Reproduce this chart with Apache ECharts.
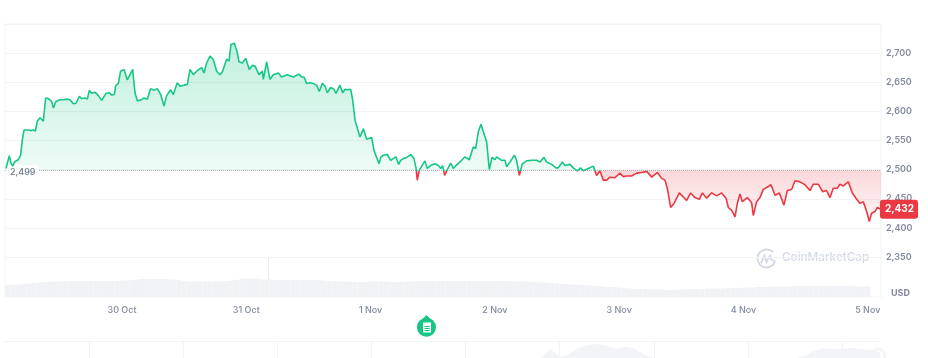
<!DOCTYPE html>
<html lang="en">
<head>
<meta charset="UTF-8">
<title>Price chart</title>
<script src="https://cdn.jsdelivr.net/npm/echarts@6/dist/echarts.min.js"></script>
</head>
<body style="margin:0;background:#fff">
<div id="chart" style="width:928px;height:358px"></div>
<script>
// hours since 29 Oct 00:00
var hours = [1.6,1.86,2.25,2.57,2.89,3.34,3.98,4.43,4.76,5.08,5.46,5.91,6.36,6.88,7.27,7.65,8.17,8.42,8.81,9.26,9.78,10.42,10.74,11.26,12.03,12.67,13.32,13.96,14.6,15.12,15.76,16.21,16.86,17.31,17.69,18.14,18.79,19.43,20.07,20.91,21.55,22,22.52,22.78,23.29,23.74,24.39,25.03,26.06,26.51,26.96,27.8,28.25,28.89,29.53,30.18,30.82,31.47,32.11,32.62,33.4,33.91,34.68,35.2,35.97,36.61,37.13,37.77,38.42,38.74,39.38,39.83,40.35,40.99,41.63,42.28,42.92,43.44,44.21,44.66,45.04,45.69,46.27,46.59,47.23,47.88,48.58,49.16,49.68,50.45,51.1,51.29,51.93,52.57,53.22,54.18,54.83,55.92,57.08,58.17,58.69,59.14,59.65,60.3,
  60.94,61.59,62.1,62.68,63.2,63.65,64.29,64.93,65.32,66.09,66.61,67.06,67.51,68.15,68.54,68.99,69.31,69.95,70.6,71.24,72.21,72.66,72.98,73.62,74.01,74.59,75.23,75.88,76.9,77.42,77.81,78.32,78.96,79.8,80.38,80.77,81.02,81.41,82.5,82.95,83.6,84.44,85.08,85.59,85.92,86.3,86.82,87.46,87.98,88.49,89.58,90.23,91.06,91.84,92.29,92.8,93.32,93.77,94.41,94.93,95.44,96.02,96.34,97.31,97.95,98.27,98.92,99.75,100.2,100.72,101.3,102.13,103.1,104.06,104.71,105.48,106,106.96,107.8,108.25,109.02,109.53,110.5,111.14,111.92,112.56,113.08,114.04,115.01,115.65,116.29,116.94,117.58,118.22,119.19,120.15,
  120.8,121.45,122.41,123.38,124.35,125.31,126.28,127.37,128.21,128.85,129.37,129.94,130.59,131.62,132.39,133.03,133.81,134.64,135.48,136.06,136.9,137.86,138.83,139.79,140.63,141.08,141.72,142.37,142.82,143.33,143.78,144.75,145.58,145.91,146.55,147.19,147.84,148.8,149.32,150.09,150.93,151.83,152.47,153.31,153.95,154.92,155.88,156.85,157.49,158.46,159.29,160.06,160.71,161.35,162.12,162.64,163.28,164.25,165.02,165.73,166.5,167.14,167.79,168.3,168.75,169.39,169.85,170.56];
var prices = [2502,2511,2524,2511,2506,2514,2517,2525,2551,2568,2566,2568,2567,2568,2566,2583,2589,2591,2583,2623,2622,2617,2606,2617,2620,2620,2621,2620,2613,2614,2626,2622,2623,2621,2636,2631,2633,2627,2619,2631,2632,2628,2629,2644,2648,2669,2672,2654,2672,2632,2618,2620,2623,2621,2639,2636,2639,2629,2609,2627,2637,2629,2649,2643,2645,2646,2672,2663,2669,2666,2675,2666,2683,2695,2689,2669,2663,2669,2690,2686,2715,2717,2701,2685,2683,2691,2672,2679,2678,2663,2669,2655,2685,2655,2663,2666,2659,2663,2659,2664,2659,2659,2648,2649,
  2648,2645,2634,2648,2643,2632,2641,2638,2631,2645,2632,2638,2637,2638,2620,2585,2582,2556,2570,2552,2555,2533,2536,2510,2522,2525,2526,2516,2522,2509,2516,2519,2521,2526,2519,2503,2482,2499,2515,2502,2507,2510,2507,2502,2507,2490,2500,2511,2502,2507,2516,2522,2517,2539,2536,2565,2578,2565,2548,2500,2521,2517,2522,2516,2516,2505,2513,2525,2516,2490,2510,2515,2516,2516,2513,2521,2513,2509,2503,2503,2513,2507,2509,2503,2498,2503,2498,2502,2506,2490,2498,2482,2482,2487,2486,2494,
  2488,2489,2489,2494,2495,2497,2487,2495,2485,2482,2465,2435,2442,2460,2453,2447,2460,2452,2449,2460,2451,2460,2455,2460,2451,2435,2430,2419,2442,2458,2445,2452,2443,2421,2445,2452,2466,2471,2474,2456,2460,2439,2464,2466,2481,2479,2474,2464,2475,2475,2462,2464,2452,2468,2468,2475,2472,2479,2460,2451,2442,2445,2428,2411,2425,2428,2435,2432];
var basePrice = 2499;
var lastPrice = 2432;

// one bar per hour, from hour 2
var volumeStart = 2;
var volumes = [12,12,12.5,13,13.5,14,14.5,15,15,15.5,15.5,16,16,16,16,16,16,16,16,16,16,16,16.5,16.5,17,17.5,18,18,18,18,18,18,17.5,17,16,15.5,15.5,15.5,15.5,15.5,15.5,15.5,16,16.5,17,18,18.5,18.5,18,17.5,17.5,17,17,17,17,17,17,17,17,17,17,16.5,16,16,15.5,15.5,15,15,15,15,15.5,15.5,15.5,15.5,15,15,15,15.5,15.5,16,16,16,16,16,16,16,16,16,16,16,16,16,16,16,16,16,16,16,15.5,15.5,15.5,15,15,14.5,14.5,14,13.5,13,13,12.5,12.5,12,11.5,11,11,10.5,10,10,9.5,9,8.5,8,8,8,7.5,7.5,7.5,7,7,7,7.5,7.5,8,8,8,8.5,8.5,8.5,8.5,9,9,9,9.5,9.5,9.5,10,10,10,10.5,10.5,10.5,10.5,11,11,11,11,11,11,11,11,11,11,11,11,10.5,10.5,10.5];
var volumeSpikeHour = 52.2;
var volumeSpikeTop = 39;

var dayHours = [24,48,72,96,120,144,168];
var dayLabels = ['30 Oct','31 Oct','1 Nov','2 Nov','3 Nov','4 Nov','5 Nov'];
var priceTicks = [2350,2750,50];

// minimap strip under the chart
var navLabels = [];
var navValues = [0,0,0,0,0,0,0,0,0,0,0,0,0,0,0,0,0,0,0,0,0,0,0,0,0,0,0,0,0,0,0,0,0,0,0,0,0,0,0,0,0,0,0,0,0,0,0,0,0,0,0,0,0,0,0,0,0,0,9,1,4,10,13,14,12,9,11,9,3,0,0,0,0,0,0,0,0,0,0,0,0,0,0,0,0,2,7,10,9,9,10,9,8,6];
for (var n = 0; n < navValues.length; n++) navLabels.push(String(n));

var myChart = echarts.init(document.getElementById('chart'));

var green = '#16c784', red = '#ea3943', gridColor = '#f2f3f5', labelColor = '#808a9d';
var font = 'Inter';

var linePoints = hours.map(function (h, i) { return [h, prices[i]]; });
var volumePoints = volumes.map(function (v, i) { return [volumeStart + i, v]; });

var hi = Math.max.apply(null, prices), lo = Math.min.apply(null, prices);
var split = (hi - basePrice) / (hi - lo);

var option = {
    animation: false,
    backgroundColor: '#fff',
    grid: [
        { left: 5, width: 876, top: 24, height: 233 },
        { left: 5, width: 876, top: 257, height: 40 },
        { left: 4, width: 876, top: 341, height: 17 },
        // outer frame
        { left: 5, width: 876, top: 24, height: 273, show: true, borderColor: gridColor, borderWidth: 1 }
    ],
    xAxis: [
        { gridIndex: 0, type: 'value', min: 1.41, max: 170.56, show: false },
        {
            gridIndex: 1, type: 'value', min: 1.41, max: 170.56,
            axisLine: { show: false }, axisTick: { show: false }, splitLine: { show: false },
            axisLabel: {
                customValues: dayHours,
                margin: 9,
                color: labelColor, fontFamily: font, fontSize: 9, fontWeight: 500,
                formatter: function (v) { return dayLabels[dayHours.indexOf(v)]; }
            }
        },
        {
            gridIndex: 2, type: 'category', boundaryGap: false, data: navLabels,
            position: 'top',
            axisLine: { show: true, onZero: false, lineStyle: { color: gridColor } },
            axisTick: { show: false }, axisLabel: { show: false },
            splitLine: {
                show: true, lineStyle: { color: gridColor },
                interval: function (i) { return i % 10 === 9; }
            }
        }
    ],
    yAxis: [
        {
            gridIndex: 0, type: 'value', position: 'right',
            min: priceTicks[0], max: priceTicks[1], interval: priceTicks[2],
            axisLine: { show: false }, axisTick: { show: false },
            splitLine: { lineStyle: { color: gridColor } },
            axisLabel: {
                margin: 5,
                color: labelColor, fontFamily: font, fontSize: 9, fontWeight: 600,
                formatter: function (v) {
                    if (v === priceTicks[1]) return '';
                    return echarts.format.addCommas(v);
                }
            }
        },
        { gridIndex: 1, type: 'value', min: 0, max: 40, show: false },
        { gridIndex: 2, type: 'value', min: 0, max: 17, show: false }
    ],
    series: [
        {
            type: 'line', xAxisIndex: 0, yAxisIndex: 0, data: linePoints,
            showSymbol: false, smooth: false, z: 5,
            lineStyle: {
                width: 1.6,
                color: new echarts.graphic.LinearGradient(0, 0, 0, 1, [
                    { offset: 0, color: green },
                    { offset: split, color: green },
                    { offset: split, color: red },
                    { offset: 1, color: red }
                ])
            },
            areaStyle: {
                origin: basePrice,
                color: new echarts.graphic.LinearGradient(0, 0, 0, 1, [
                    { offset: 0, color: 'rgba(22,199,132,0.38)' },
                    { offset: split, color: 'rgba(22,199,132,0.1)' },
                    { offset: split, color: 'rgba(234,57,67,0.28)' },
                    { offset: 1, color: 'rgba(234,57,67,0.08)' }
                ])
            },
            markLine: {
                silent: true, symbol: 'none', animation: false,
                lineStyle: { color: '#b4bccb', type: 'dotted', width: 1 },
                label: {
                    position: 'insideStartBottom', distance: 0, offset: [1, -5],
                    formatter: echarts.format.addCommas(basePrice),
                    color: '#6b778c', fontFamily: font, fontSize: 9, fontWeight: 500,
                    backgroundColor: '#fff', padding: [3, 3, 3, 4], borderRadius: 4
                },
                data: [{ yAxis: basePrice }]
            },
            markPoint: {
                silent: true, animation: false,
                symbol: 'rect', symbolSize: 1,
                label: {
                    show: true, position: 'inside', offset: [18, 0],
                    color: '#fff', fontFamily: font, fontSize: 10, fontWeight: 700,
                    backgroundColor: red, padding: [5, 4, 4, 5], borderRadius: 3,
                    formatter: echarts.format.addCommas(lastPrice)
                },
                data: [{ coord: [170.56, lastPrice] }]
            }
        },
        {
            type: 'bar', xAxisIndex: 1, yAxisIndex: 1, data: volumePoints,
            barWidth: 5.2, itemStyle: { color: '#f0f2f5' },
            markLine: {
                silent: true, symbol: 'none', animation: false, label: { show: false },
                lineStyle: { color: '#e8ebef', type: 'solid', width: 1 },
                data: [[{ coord: [volumeSpikeHour, 17] }, { coord: [volumeSpikeHour, volumeSpikeTop] }]]
            }
        },
        {
            type: 'line', xAxisIndex: 2, yAxisIndex: 2, data: navValues,
            showSymbol: false, lineStyle: { width: 0 }, areaStyle: { color: '#f2f4f7', opacity: 1 }
        }
    ],
    graphic: [
        { type: 'text', x: 891, y: 289, style: { text: 'USD', fill: labelColor, font: '700 9px Inter' } },
        // watermark
        {
            type: 'text', x: 782, y: 251,
            style: { text: 'CoinMarketCap', fill: '#d3d9e4', font: '500 11.7px Inter' }
        },
        {
            type: 'arc', shape: { cx: 766.5, cy: 258.5, r: 9, startAngle: 0.35, endAngle: -0.75, clockwise: true },
            style: { fill: 'none', stroke: '#d3d9e4', lineWidth: 1.8 }
        },
        {
            type: 'polyline',
            shape: { points: [[761, 263], [764.5, 255.5], [766.5, 262], [770, 255.5], [771.5, 260], [775.5, 261]] },
            style: { fill: 'none', stroke: '#d3d9e4', lineWidth: 1.8 }
        },
        // note marker
        { type: 'circle', shape: { cx: 426.5, cy: 327.3, r: 9.5 }, style: { fill: green } },
        { type: 'polygon', shape: { points: [[426.5, 315], [431, 319.5], [422, 319.5]] }, style: { fill: green } },
        { type: 'rect', shape: { x: 423, y: 322.5, width: 8, height: 10 }, style: { fill: '#fff' } },
        { type: 'rect', shape: { x: 424.5, y: 326, width: 5, height: 1 }, style: { fill: green } },
        { type: 'rect', shape: { x: 424.5, y: 328, width: 5, height: 1 }, style: { fill: green } },
        { type: 'rect', shape: { x: 424.5, y: 330, width: 5, height: 1 }, style: { fill: green } },
        // pause button of the minimap
        {
            type: 'circle', shape: { cx: 878, cy: 356, r: 6 },
            style: { fill: '#fff', shadowBlur: 4, shadowColor: 'rgba(0,0,0,0.18)' }
        },
        { type: 'rect', shape: { x: 876, y: 354, width: 1, height: 4 }, style: { fill: '#a6b0c3' } },
        { type: 'rect', shape: { x: 879, y: 354, width: 1, height: 4 }, style: { fill: '#a6b0c3' } }
    ]
};

myChart.setOption(option);
</script>
</body>
</html>
